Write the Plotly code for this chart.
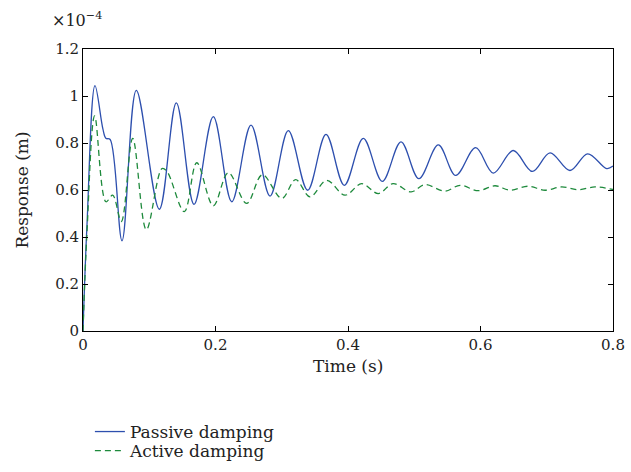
import plotly.graph_objects as go

# Time (s) and response (x1e-4 m), read at peaks/troughs of each curve
t_passive = [0.0, 0.006, 0.0181, 0.030, 0.0345, 0.041, 0.0589, 0.0805, 0.1152, 0.1409,
             0.1676, 0.1967, 0.2245, 0.2536, 0.2823, 0.3099, 0.3391, 0.3668, 0.3944,
             0.4231, 0.4518, 0.480, 0.507, 0.5363, 0.5626, 0.5927, 0.6193, 0.6495,
             0.6782, 0.705, 0.7351, 0.7618, 0.7905, 0.80]
y_passive = [0.0, 0.45, 1.044, 0.86, 0.82, 0.815, 0.384, 1.024, 0.518, 0.971,
             0.539, 0.912, 0.550, 0.876, 0.574, 0.853, 0.599, 0.837, 0.620,
             0.820, 0.637, 0.805, 0.648, 0.792, 0.662, 0.780, 0.672, 0.768,
             0.679, 0.758, 0.683, 0.754, 0.691, 0.702]

t_active = [0.0, 0.006, 0.0176, 0.0347, 0.0448, 0.0578, 0.075, 0.0956, 0.1192, 0.1268,
            0.1529, 0.1717, 0.1967, 0.2193, 0.247, 0.2707, 0.300, 0.321, 0.3426,
            0.3678, 0.3955, 0.4206, 0.4458, 0.468, 0.4953, 0.5162, 0.5464, 0.5691,
            0.5967, 0.6219, 0.6445, 0.6722, 0.6974, 0.7226, 0.7477, 0.7728, 0.80]
y_active = [0.0, 0.42, 0.915, 0.550, 0.578, 0.466, 0.820, 0.431, 0.691, 0.679,
            0.508, 0.716, 0.533, 0.674, 0.543, 0.665, 0.564, 0.644, 0.571,
            0.641, 0.578, 0.627, 0.585, 0.627, 0.592, 0.623, 0.595, 0.620,
            0.597, 0.618, 0.599, 0.616, 0.599, 0.613, 0.601, 0.613, 0.602]

x_ticks = [0, 0.2, 0.4, 0.6, 0.8]
y_ticks = [0, 0.2, 0.4, 0.6, 0.8, 1.0, 1.2]
y_tick_labels = ["0", "0.2", "0.4", "0.6", "0.8", "1", "1.2"]

FONT = "DejaVu Serif"
TXT = "#222"

W, H = 631, 472
L, R, T, B = 83, 18, 49, 141
plot_h = H - T - B

fig = go.Figure()
fig.add_trace(go.Scatter(x=t_passive, y=y_passive, mode="lines", name="Passive damping",
                         legend="legend",
                         line=dict(color="#2d4fae", width=1.3, shape="spline", smoothing=1.0)))
fig.add_trace(go.Scatter(x=t_active, y=y_active, mode="lines", name="Active damping",
                         legend="legend2",
                         line=dict(color="#1e8a3c", width=1.3, dash="6px,4px",
                                   shape="spline", smoothing=1.0)))

axis_common = dict(showline=True, linecolor="black", linewidth=1, mirror="ticks",
                   ticks="inside", ticklen=5, tickcolor="black", showgrid=False,
                   zeroline=False, tickfont=dict(family=FONT, size=15, color=TXT))

fig.update_xaxes(range=[0, 0.8], tickvals=x_ticks, ticktext=[str(v) for v in x_ticks],
                 **axis_common)
fig.update_yaxes(range=[0, 1.2], tickvals=y_ticks, ticktext=y_tick_labels,
                 title=dict(text="Response (m)", font=dict(family=FONT, size=17, color=TXT),
                            standoff=22), **axis_common)

# x-axis title placed just under the tick labels
fig.add_annotation(text="Time (s)", xref="paper", yref="paper", x=0.5,
                   y=-35 / plot_h, xanchor="center", yanchor="middle", showarrow=False,
                   font=dict(family=FONT, size=17, color=TXT))

fig.add_annotation(text="×10<sup>−4</sup>", xref="paper", yref="paper", x=-0.062,
                   y=1 + 29 / plot_h, xanchor="left", yanchor="middle", showarrow=False,
                   font=dict(family=FONT, size=16, color=TXT))

legend_common = dict(x=0.013, xanchor="left", yanchor="middle", orientation="v",
                     font=dict(family=FONT, size=17, color=TXT), itemwidth=30,
                     bgcolor="rgba(0,0,0,0)")

fig.update_layout(
    width=W, height=H,
    margin=dict(l=L, r=R, t=T, b=B, autoexpand=False),
    plot_bgcolor="white", paper_bgcolor="white",
    legend=dict(y=-(432 - (H - B)) / plot_h, **legend_common),
    legend2=dict(y=-(451 - (H - B)) / plot_h, **legend_common),
    showlegend=True,
)

fig.write_html("out.html", config={"displayModeBar": False},
               post_script="document.body.style.margin='0';document.body.style.overflow='hidden';")
